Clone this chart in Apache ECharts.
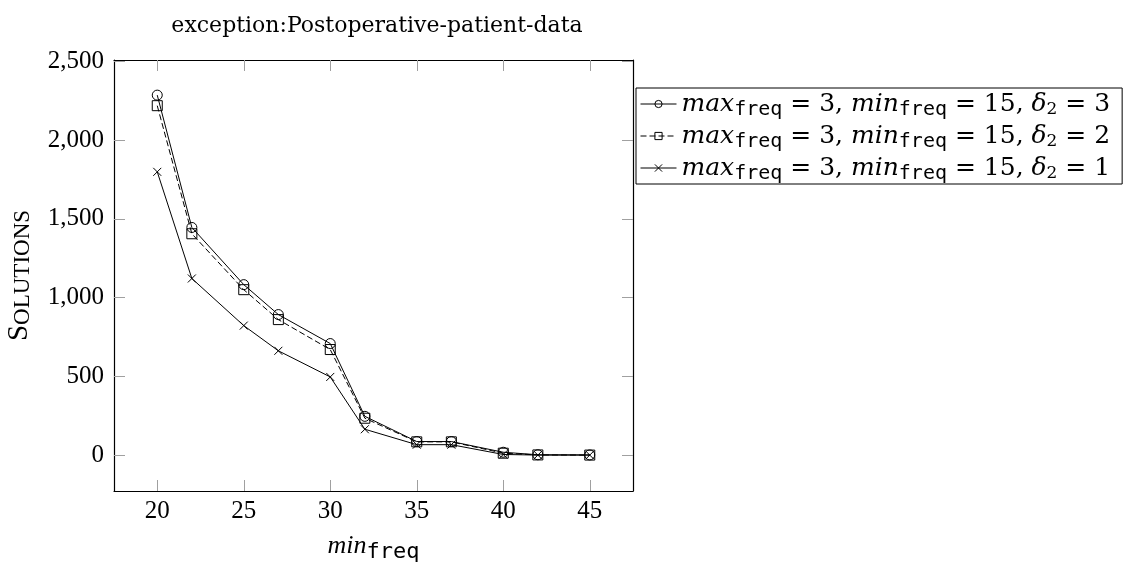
<!DOCTYPE html>
<html>
<head>
<meta charset="utf-8">
<script src="https://cdn.jsdelivr.net/npm/echarts@6/dist/echarts.min.js"></script>
<style>
  html, body { margin: 0; padding: 0; background: #fff; }
  #main { width: 1124px; height: 570px; }
</style>
</head>
<body>
<div id="main"></div>
<script>
// min_freq values on the x axis
var minFreq = [20, 22, 25, 27, 30, 32, 35, 37, 40, 42, 45];
// solutions, one list per delta_2
var delta3 = [2285, 1445, 1082, 892, 708, 246, 86, 86, 18, 2, 1];
var delta2 = [2218, 1405, 1050, 860, 670, 234, 84, 84, 12, 1, 0];
var delta1 = [1798, 1121, 822, 662, 496, 164, 66, 66, 4, 0, 0];
var xTicks = [20, 25, 30, 35, 40, 45];
var yTicks = [0, 500, 1000, 1500, 2000, 2500];

var serif = 'Liberation Serif';
var wide = 'DejaVu Serif';
var mono = 'DejaVu Sans Mono';

function pairs(ys) {
  return minFreq.map(function (x, i) { return [x, ys[i]]; });
}

var legendNames = ['d3', 'd2', 'd1'];
var legendDelta = { d3: '3', d2: '2', d1: '1' };

var chart = echarts.init(document.getElementById('main'));

var tickStyle = { show: true, inside: true, length: 11, lineStyle: { color: '#a0a0a0', width: 1 } };
var frameLine = { show: true, onZero: false, lineStyle: { color: '#000', width: 1.2 } };

var option = {
  animation: false,
  title: {
    text: 'exception:Postoperative-patient-data',
    left: 372,
    top: 10,
    textAlign: 'center',
    textStyle: { fontFamily: wide, fontSize: 22, fontWeight: 'normal', color: '#000' }
  },
  grid: { left: 114, top: 60, right: 491, bottom: 79 },
  legend: {
    data: legendNames,
    orient: 'vertical',
    left: 636,
    top: 88,
    padding: [0, 12, 0, 4],
    itemGap: 0,
    itemWidth: 36,
    itemHeight: 9,
    borderColor: '#000',
    borderWidth: 1,
    borderRadius: 0,
    lineStyle: { width: 1 },
    itemStyle: { borderWidth: 1 },
    formatter: function (name) {
      var v = legendDelta[name];
      return '{i|max}{s|freq}{n| = 3, }{i|min}{s|freq}{n| = 15, }{i|δ}{d|2}{n| = ' + v + '}';
    },
    textStyle: {
      color: '#000',
      rich: {
        i: { fontFamily: wide, fontStyle: 'italic', fontSize: 25, lineHeight: 28, color: '#000' },
        n: { fontFamily: wide, fontSize: 25, lineHeight: 28, color: '#000' },
        s: { fontFamily: mono, fontSize: 20, lineHeight: 16, color: '#000', padding: [12, 0, 0, 0] },
        d: { fontFamily: wide, fontSize: 17, lineHeight: 16, color: '#000', padding: [12, 0, 0, 0] }
      }
    }
  },
  xAxis: [
    {
      type: 'value',
      min: 17.5,
      max: 47.5,
      position: 'bottom',
      axisLine: frameLine,
      axisTick: Object.assign({ customValues: xTicks }, tickStyle),
      splitLine: { show: false },
      axisLabel: {
        customValues: xTicks,
        margin: 8,
        color: '#000',
        fontFamily: serif,
        fontSize: 25
      },
      name: '{i|min}{s|freq}',
      nameLocation: 'middle',
      nameGap: 33,
      nameTextStyle: {
        rich: {
          i: { fontFamily: serif, fontStyle: 'italic', fontSize: 26, lineHeight: 28, color: '#000' },
          s: { fontFamily: mono, fontSize: 22, lineHeight: 20, color: '#000', padding: [12, 0, 0, 0] }
        }
      }
    },
    {
      type: 'value',
      min: 17.5,
      max: 47.5,
      position: 'top',
      axisLine: frameLine,
      axisTick: Object.assign({ customValues: xTicks }, tickStyle),
      axisLabel: { show: false, customValues: xTicks },
      splitLine: { show: false }
    }
  ],
  yAxis: [
    {
      type: 'value',
      min: -228,
      max: 2508,
      position: 'left',
      axisLine: frameLine,
      axisTick: Object.assign({ customValues: yTicks }, tickStyle),
      splitLine: { show: false },
      axisLabel: {
        customValues: yTicks,
        margin: 10,
        color: '#000',
        fontFamily: serif,
        fontSize: 25,
        formatter: function (v) { return v.toLocaleString('en-US'); }
      },
      name: '{a|S}{b|OLUTIONS}',
      nameLocation: 'middle',
      nameGap: 80,
      nameRotate: 90,
      nameTextStyle: {
        rich: {
          a: { fontFamily: serif, fontSize: 29, color: '#000', verticalAlign: 'bottom' },
          b: { fontFamily: serif, fontSize: 23, color: '#000', verticalAlign: 'bottom' }
        }
      }
    },
    {
      type: 'value',
      min: -228,
      max: 2508,
      position: 'right',
      axisLine: frameLine,
      axisTick: Object.assign({ customValues: yTicks }, tickStyle),
      axisLabel: { show: false, customValues: yTicks },
      splitLine: { show: false }
    }
  ],
  series: [
    {
      name: 'd3',
      type: 'line',
      data: pairs(delta3),
      symbol: 'circle',
      symbolSize: 10,
      lineStyle: { color: '#000', width: 1 },
      itemStyle: { color: 'rgba(255,255,255,0)', borderColor: '#000', borderWidth: 1 }
    },
    {
      name: 'd2',
      type: 'line',
      data: pairs(delta2),
      symbol: 'rect',
      symbolSize: 10,
      lineStyle: { color: '#000', width: 1, type: [6, 3] },
      itemStyle: { color: 'rgba(255,255,255,0)', borderColor: '#000', borderWidth: 1 }
    },
    {
      name: 'd1',
      type: 'line',
      data: pairs(delta1),
      symbol: 'path://M0,0L10,10M10,0L0,10',
      symbolSize: 8,
      lineStyle: { color: '#000', width: 1 },
      itemStyle: { color: 'rgba(255,255,255,0)', borderColor: '#000', borderWidth: 1 }
    }
  ]
};

chart.setOption(option);
</script>
</body>
</html>
